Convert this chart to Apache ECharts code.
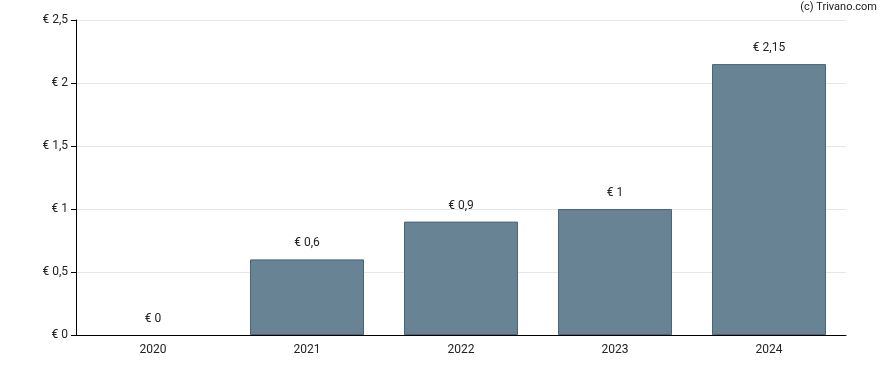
<!DOCTYPE html>
<html><head><meta charset="utf-8">
<script src="https://cdn.jsdelivr.net/npm/echarts@6/dist/echarts.min.js"></script>
<style>html,body{margin:0;padding:0;background:#fff}#c{width:888px;height:370px}</style>
</head><body><div id="c"></div>
<script>
const categories = ['2020','2021','2022','2023','2024'];
const values = [0, 0.6, 0.9, 1, 2.15];
const yTicks = [0, 0.5, 1, 1.5, 2, 2.5];
const fmt = v => '€ ' + String(v).replace('.', ',');
const chart = echarts.init(document.getElementById('c'));
chart.setOption({
  animation: false,
  textStyle: {fontFamily: 'Roboto'},
  graphic: [{type:'text', right: 11, top: 2, style:{text:'(c) Trivano.com', font:'11px Roboto', fill:'#222'}}],
  grid: {left: 76, right: 42, top: 20, bottom: 35},
  xAxis: {
    type: 'category', data: categories,
    axisLine: {lineStyle: {color: '#000'}},
    axisTick: {alignWithLabel: true, length: 5, lineStyle:{color:'#000'}},
    axisLabel: {color: '#222', fontSize: 12, margin: 9}
  },
  yAxis: {
    type: 'value', min: 0, max: 2.5, interval: 0.5,
    axisLine: {show: true, lineStyle: {color: '#000'}},
    axisTick: {show: true, length: 5, lineStyle:{color:'#000'}},
    splitLine: {lineStyle: {color: '#e6e6e6'}},
    axisLabel: {color: '#222', fontSize: 12, margin: 8, formatter: v => yTicks.includes(v) ? fmt(v) : ''}
  },
  series: [{
    type: 'bar', barWidth: 114, z: 1,
    data: values.map(v => v === 0 ? {value: v, itemStyle: {borderWidth: 0, opacity: 0}} : v),
    itemStyle: {color: '#678394', borderColor: '#4b6577', borderWidth: 1},
    label: {show: true, position: 'top', distance: 10, color: '#222', fontSize: 12, opacity: 1, formatter: p => fmt(p.value)}
  }]
});
</script></body></html>
